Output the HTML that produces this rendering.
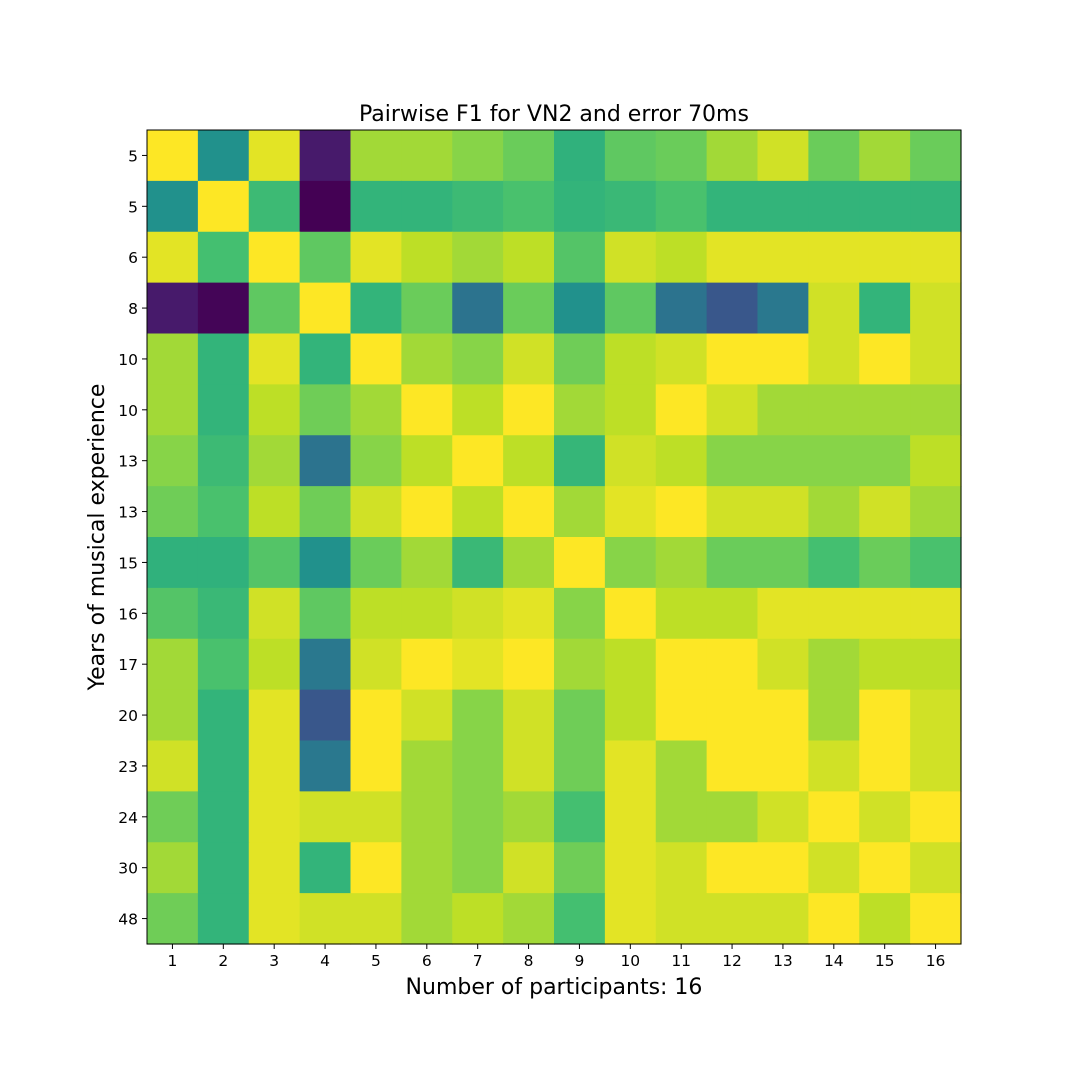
<!DOCTYPE html>
<html><head><meta charset="utf-8"><style>
html,body{margin:0;padding:0;background:#fff;}
svg{display:block;font-family:"DejaVu Sans","Liberation Sans",sans-serif;}
</style></head><body>
<svg id="chart" width="1080" height="1080" viewBox="0 0 1080 1080" xmlns="http://www.w3.org/2000/svg">
<rect width="1080" height="1080" fill="#fff"/>
<text x="554" y="121" font-size="22" text-anchor="middle">Pairwise F1 for VN2 and error 70ms</text>
<text x="554" y="994" font-size="22" text-anchor="middle">Number of participants: 16</text>
<text x="104" y="537" font-size="22" text-anchor="middle" transform="rotate(-90 104 537)">Years of musical experience</text>
<g id="cells"></g>
<g id="axes"></g>
</svg>
<script>
const xCategories=["1","2","3","4","5","6","7","8","9","10","11","12","13","14","15","16"];
const yCategories=["5","5","6","8","10","10","13","13","15","16","17","20","23","24","30","48"];
const values=[
[1.0,0.5,0.96,0.07,0.86,0.86,0.82,0.77,0.64,0.75,0.77,0.86,0.93,0.77,0.86,0.77],
[0.5,1.0,0.68,0.0,0.65,0.65,0.68,0.71,0.65,0.67,0.71,0.65,0.65,0.65,0.65,0.65],
[0.96,0.7,1.0,0.75,0.96,0.9,0.86,0.9,0.73,0.93,0.9,0.96,0.96,0.96,0.96,0.96],
[0.07,0.01,0.75,1.0,0.65,0.77,0.38,0.77,0.5,0.75,0.38,0.27,0.4,0.93,0.65,0.93],
[0.86,0.65,0.96,0.65,1.0,0.86,0.82,0.93,0.78,0.9,0.93,1.0,1.0,0.93,1.0,0.93],
[0.86,0.65,0.9,0.78,0.86,1.0,0.9,1.0,0.86,0.9,1.0,0.93,0.86,0.86,0.86,0.86],
[0.82,0.68,0.86,0.38,0.82,0.9,1.0,0.9,0.66,0.93,0.9,0.82,0.82,0.82,0.82,0.9],
[0.78,0.71,0.9,0.78,0.93,1.0,0.9,1.0,0.86,0.96,1.0,0.93,0.93,0.86,0.93,0.86],
[0.64,0.64,0.73,0.5,0.77,0.86,0.67,0.86,1.0,0.82,0.86,0.77,0.77,0.7,0.77,0.71],
[0.73,0.67,0.93,0.75,0.9,0.9,0.93,0.96,0.82,1.0,0.9,0.9,0.96,0.96,0.96,0.96],
[0.86,0.71,0.9,0.4,0.93,1.0,0.96,1.0,0.86,0.9,1.0,1.0,0.93,0.86,0.9,0.9],
[0.86,0.65,0.96,0.27,1.0,0.93,0.82,0.93,0.78,0.9,1.0,1.0,1.0,0.86,1.0,0.93],
[0.93,0.65,0.96,0.4,1.0,0.86,0.82,0.93,0.78,0.96,0.86,1.0,1.0,0.93,1.0,0.93],
[0.78,0.65,0.96,0.93,0.93,0.86,0.82,0.86,0.7,0.96,0.86,0.86,0.93,1.0,0.93,1.0],
[0.86,0.65,0.96,0.65,1.0,0.86,0.82,0.93,0.78,0.96,0.93,1.0,1.0,0.93,1.0,0.93],
[0.78,0.65,0.96,0.93,0.93,0.86,0.9,0.86,0.7,0.96,0.93,0.93,0.93,1.0,0.9,1.0]
];
const stops=["#440154","#482475","#414487","#355f8d","#2a788e","#21918c","#22a884","#44bf70","#7ad151","#bddf26","#fde725"];
function hex(h){return [1,3,5].map(i=>parseInt(h.substr(i,2),16));}
function viridis(v){v=Math.max(0,Math.min(1,v));const t=v*10;const i=Math.min(9,Math.floor(t));const f=t-i;const a=hex(stops[i]),b=hex(stops[i+1]);return "rgb("+a.map((c,k)=>Math.round(c+(b[k]-c)*f)).join(",")+")";}
const L=147,T=130,R=961,B=944;
const cw=(R-L)/xCategories.length, ch=(B-T)/yCategories.length;
function xPos(i){return L+i*cw;}
function yPos(j){return T+j*ch;}
const NS="http://www.w3.org/2000/svg";
const cells=document.getElementById("cells");
values.forEach((row,j)=>row.forEach((v,i)=>{
 const r=document.createElementNS(NS,"rect");
 r.setAttribute("x",xPos(i));r.setAttribute("y",yPos(j));
 r.setAttribute("width",cw+0.6);r.setAttribute("height",ch+0.6);
 r.setAttribute("fill",viridis(v));
 
 
 cells.appendChild(r);
}));
const axes=document.getElementById("axes");
const frame=document.createElementNS(NS,"rect");
frame.setAttribute("x",L);frame.setAttribute("y",T);frame.setAttribute("width",R-L);frame.setAttribute("height",B-T);
frame.setAttribute("fill","none");frame.setAttribute("stroke","#000");frame.setAttribute("stroke-width","1");


axes.appendChild(frame);
xCategories.forEach((c,i)=>{
 const x=xPos(i)+cw/2;
 const tk=document.createElementNS(NS,"line");
 tk.setAttribute("x1",x);tk.setAttribute("x2",x);tk.setAttribute("y1",B);tk.setAttribute("y2",B+5);tk.setAttribute("stroke","#000");
 
 
 axes.appendChild(tk);
 const t=document.createElementNS(NS,"text");
 t.setAttribute("x",x);t.setAttribute("y",B+22);t.setAttribute("font-size","15.5");t.setAttribute("text-anchor","middle");
 t.textContent=c;
 
 
 axes.appendChild(t);
});
yCategories.forEach((c,j)=>{
 const y=yPos(j)+ch/2;
 const tk=document.createElementNS(NS,"line");
 tk.setAttribute("x1",L-5);tk.setAttribute("x2",L);tk.setAttribute("y1",y);tk.setAttribute("y2",y);tk.setAttribute("stroke","#000");
 
 
 axes.appendChild(tk);
 const t=document.createElementNS(NS,"text");
 t.setAttribute("x",L-9);t.setAttribute("y",y+6);t.setAttribute("font-size","15.5");t.setAttribute("text-anchor","end");
 t.textContent=c;
 
 
 axes.appendChild(t);
});
</script>
</body></html>
